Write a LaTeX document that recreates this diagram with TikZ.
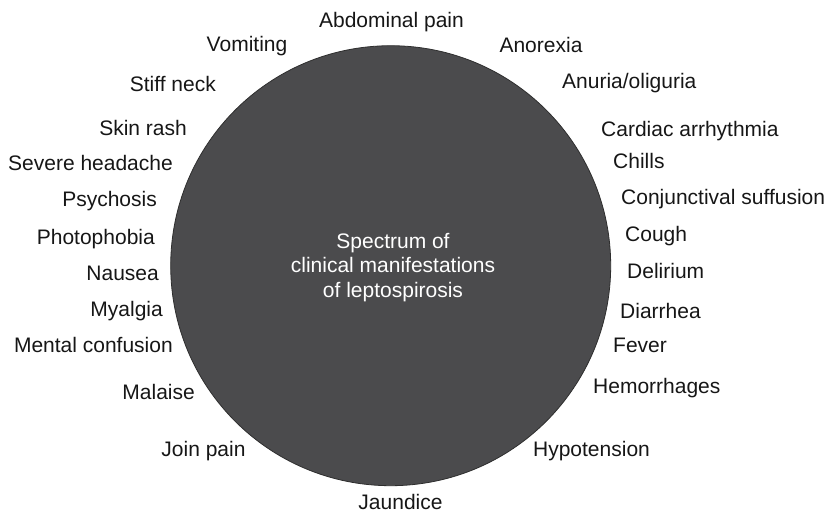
\documentclass[tikz,border=0pt]{standalone}
\usepackage{fontspec}
\setmainfont{Liberation Sans}
\definecolor{discfill}{HTML}{4B4B4D}
\definecolor{discline}{HTML}{2E2E2E}
\definecolor{labeltext}{HTML}{161616}
\tikzset{
  lbl/.style={font=\fontsize{21}{25}\selectfont, text=labeltext, inner sep=0pt, text height=15pt, text depth=0pt},
  lbll/.style={lbl, anchor=east},
  lblr/.style={lbl, anchor=west},
  lblc/.style={lbl, anchor=center},
  disc/.style={circle, fill=discfill, draw=discline, line width=0.8pt, minimum size=440pt, inner sep=0pt},
  centertext/.style={font=\fontsize{21}{24.5}\selectfont, text=white, align=center, inner sep=0pt}
}
\begin{document}
\begin{tikzpicture}[x=1pt,y=-1pt]
\useasboundingbox (0,0) rectangle (832,514);
\node[disc] (disc) at (390.7,265.7) {};
\node[centertext] (title) at (393,267.5) {Spectrum of\\clinical manifestations\\of leptospirosis};
% top
\node[lblc] (abd) at (391.5,20) {Abdominal pain};
\node[lblc] (vom) at (247,44) {Vomiting};
\node[lblc] (ano) at (541,45) {Anorexia};
\node[lbll] (stiff) at (216,84) {Stiff neck};
\node[lblr] (anu) at (562,81) {Anuria/oliguria};
% left
\node[lbll] (skin) at (187,128) {Skin rash};
\node[lbll] (sev) at (173,163) {Severe headache};
\node[lbll] (psy) at (157,199) {Psychosis};
\node[lbll] (pho) at (155,237) {Photophobia};
\node[lbll] (nau) at (159,273) {Nausea};
\node[lbll] (mya) at (163,309) {Myalgia};
\node[lbll] (men) at (173,345) {Mental confusion};
\node[lbll] (mal) at (195,392) {Malaise};
% right
\node[lblr] (car) at (601,129) {Cardiac arrhythmia};
\node[lblr] (chi) at (613,161) {Chills};
\node[lblr] (con) at (621,197) {Conjunctival suffusion};
\node[lblr] (cou) at (625,234) {Cough};
\node[lblr] (del) at (627,271) {Delirium};
\node[lblr] (dia) at (620,311) {Diarrhea};
\node[lblr] (fev) at (613,345) {Fever};
\node[lblr] (hem) at (593,386) {Hemorrhages};
% bottom
\node[lblc] (join) at (203.5,449) {Join pain};
\node[lblc] (hyp) at (591.5,449) {Hypotension};
\node[lblc] (jau) at (400.5,502) {Jaundice};
\end{tikzpicture}
\end{document}
